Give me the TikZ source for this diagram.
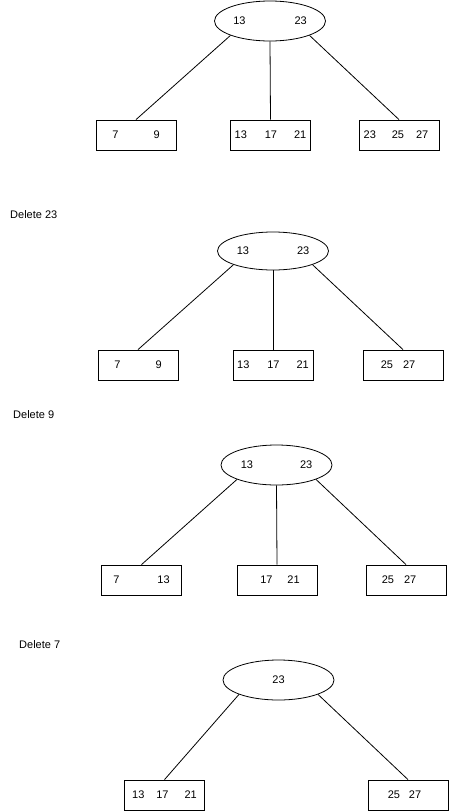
\documentclass[tikz,border=0pt]{standalone}
\usepackage{fontspec}
\setmainfont{Liberation Sans}
\usepackage{tikz}
\usetikzlibrary{shapes.geometric, positioning}

\begin{document}
\begin{tikzpicture}[
  x=1pt, y=-1pt,
  inner/.style={draw, ellipse, inner sep=0pt, minimum width=111pt, minimum height=40pt, line width=0.8pt, font=\fontsize{11}{13}\selectfont},
  leaf/.style={draw, rectangle, inner sep=0pt, minimum width=80pt, minimum height=30pt, line width=0.8pt, font=\fontsize{11}{13}\selectfont},
  caption/.style={anchor=west, inner sep=0pt, font=\fontsize{11}{13}\selectfont},
  edge/.style={line width=0.8pt}
]
  \useasboundingbox (0,0) rectangle (449,811);

  \node[inner] (rootA) at (270,21) {13\hspace{49pt}23};
  \node[leaf] (leafA1) at (136,135) {7\hspace{35pt}9};
  \node[leaf] (leafA2) at (270.5,135) {13\hspace{18pt}17\hspace{17pt}21};
  \node[leaf] (leafA3) at (399,135) {23\hspace{16pt}25\hspace{12pt}27\hspace*{6pt}};
  \draw[edge] (rootA.south west) -- (leafA1.north);
  \draw[edge] (rootA.south) -- (leafA2.north);
  \draw[edge] (rootA.south east) -- (leafA3.north);

  \node[caption] (delB) at (10,215) {Delete 23};
  \node[inner, minimum height=38pt] (rootB) at (273,251) {13\hspace{48pt}23};
  \node[leaf] (leafB1) at (138,365) {7\hspace{35pt}9};
  \node[leaf] (leafB2) at (273,365) {13\hspace{18pt}17\hspace{17pt}21};
  \node[leaf] (leafB3) at (403,365) {25\hspace{10pt}27\hspace*{10pt}};
  \draw[edge] (rootB.south west) -- (leafB1.north);
  \draw[edge] (rootB.south) -- (leafB2.north);
  \draw[edge] (rootB.south east) -- (leafB3.north);

  \node[caption] (delC) at (13,415) {Delete 9};
  \node[inner] (rootC) at (276.5,465) {13\hspace{47pt}23};
  \node[leaf] (leafC1) at (141.5,580) {7\hspace{38pt}13};
  \node[leaf] (leafC2) at (277,580) {\hspace*{6pt}17\hspace{15pt}21};
  \node[leaf] (leafC3) at (406,580) {25\hspace{10pt}27\hspace*{14pt}};
  \draw[edge] (rootC.south west) -- (leafC1.north);
  \draw[edge] (rootC.south) -- (leafC2.north);
  \draw[edge] (rootC.south east) -- (leafC3.north);

  \node[caption] (delD) at (19,645) {Delete 7};
  \node[inner] (rootD) at (278.5,680) {23};
  \node[leaf] (leafD1) at (164.5,795) {13\hspace{12pt}17\hspace{16pt}21};
  \node[leaf] (leafD2) at (408,795) {25\hspace{9pt}27\hspace*{7pt}};
  \draw[edge] (rootD.south west) -- (leafD1.north);
  \draw[edge] (rootD.south east) -- (leafD2.north);
\end{tikzpicture}
\end{document}
